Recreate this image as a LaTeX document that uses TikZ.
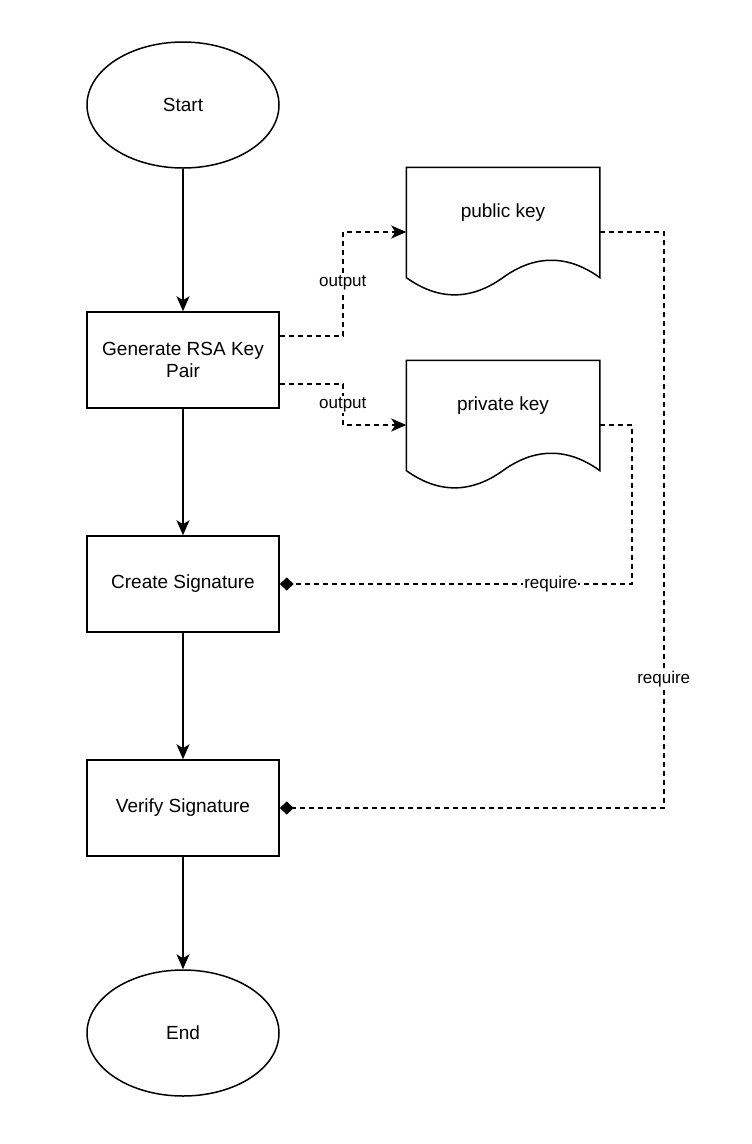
\documentclass[tikz,border=0pt]{standalone}
\usepackage{fontspec}
\setmainfont{Liberation Sans}
\usetikzlibrary{arrows.meta,shapes.geometric}
\tikzset{
  base/.style={line width=1.5pt, font=\fontsize{19}{22.8}\selectfont, align=center, inner sep=0pt},
  term/.style={base, draw, ellipse, minimum width=192pt, minimum height=126pt},
  proc/.style={base, draw, rectangle, minimum width=192pt, minimum height=96pt},
  docnode/.style={base, rectangle, minimum width=192pt, minimum height=128pt},
  flow/.style={line width=1.6pt, -{Stealth[length=15pt,width=13pt,inset=4pt]}},
  outp/.style={line width=1.6pt, dash pattern=on 5pt off 4pt, -{Stealth[length=15pt,width=13pt,inset=4pt]}},
  req/.style={line width=1.6pt, dash pattern=on 5pt off 4pt, -{Diamond[length=14pt,width=13pt]}},
  lab/.style={font=\fontsize{17}{20}\selectfont, fill=white, inner sep=1pt},
}
\newcommand\docoutline[1]{%
  \draw[line width=1.5pt] (#1.north west) -- (#1.north east) -- ([yshift=19.2pt]#1.south east)
    .. controls ([xshift=-32pt,yshift=42.27pt]#1.south east) and ([xshift=32pt,yshift=42.27pt]#1.south) .. ([yshift=19.2pt]#1.south)
    .. controls ([xshift=-32pt,yshift=-3.87pt]#1.south) and ([xshift=32pt,yshift=-3.87pt]#1.south west) .. ([yshift=19.2pt]#1.south west)
    -- cycle;}
\begin{document}
\begin{tikzpicture}[x=1pt,y=-1pt]
\useasboundingbox (0,0) rectangle (752,1144);
\node[term] (start) at (183,105) {Start};
\node[proc] (gen) at (183,360) {Generate RSA Key\\Pair};
\node[proc] (cre) at (183,584) {Create Signature};
\node[proc] (ver) at (183,808) {Verify Signature};
\node[term] (end) at (183,1033) {End};
\node[docnode, label={[base, yshift=19.2pt]center:public key}] (pub) at (503,232) {};
\node[docnode, label={[base, yshift=19.2pt]center:private key}] (priv) at (503,425) {};
\docoutline{pub}
\docoutline{priv}

\draw[flow] (start) -- (gen);
\draw[flow] (gen) -- (cre);
\draw[flow] (cre) -- (ver);
\draw[flow] (ver) -- (end);

\draw[outp] ([yshift=24pt]gen.east) -- ++(63,0) coordinate (o1)
  -- (o1 |- pub.west) node[pos=0.51, lab] {output} -- (pub.west);
\draw[outp] ([yshift=-24pt]gen.east) -- ++(63,0) coordinate (o2)
  -- (o2 |- priv.west) node[pos=0.5, lab] {output} -- (priv.west);

\draw[req] (pub.east) -- ++(64,0) coordinate (r1)
  -- (r1 |- ver.east) node[pos=0.777, lab] {require} -- (ver.east);
\draw[req] (priv.east) -- ++(32,0) coordinate (r2)
  -- (r2 |- cre.east) -- (cre.east) node[pos=0.23, lab] {require};
\end{tikzpicture}
\end{document}
